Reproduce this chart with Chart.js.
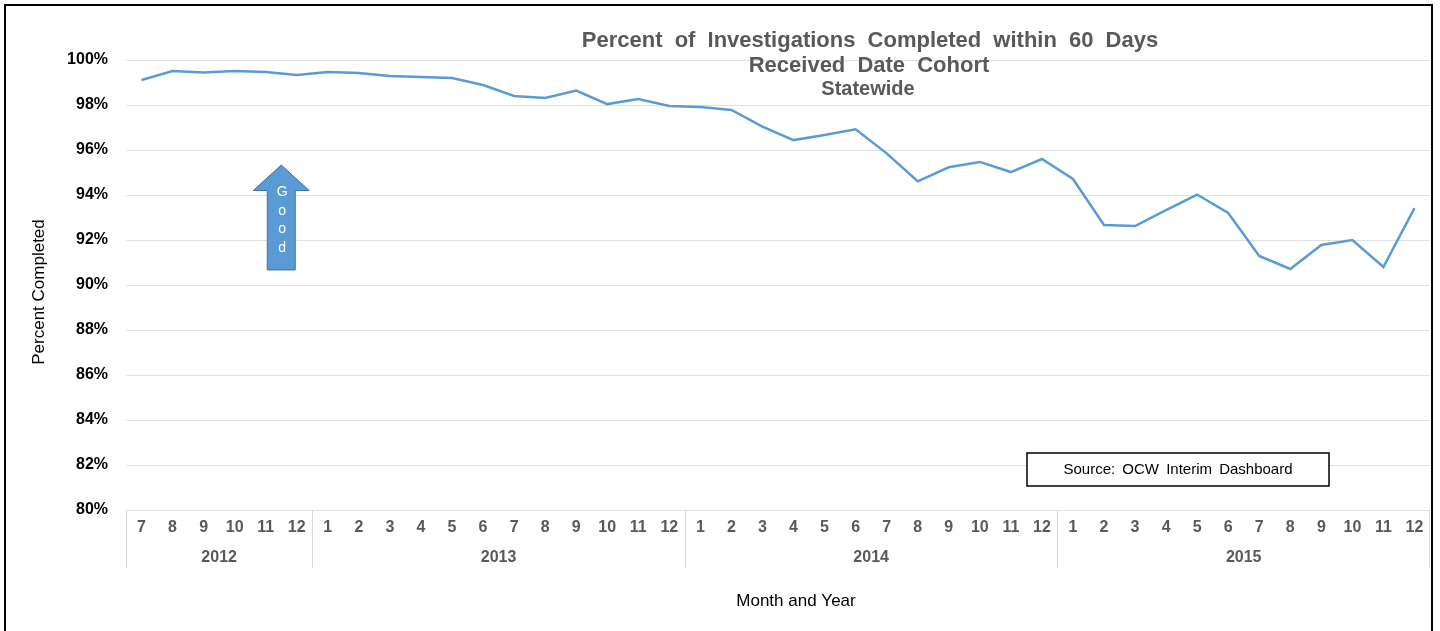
<!DOCTYPE html>
<html lang="en">
<head>
    <meta charset="UTF-8">
    <title>Percent of Investigations Completed within 60 Days</title>
    <style>
        * {
            margin: 0;
            padding: 0;
            box-sizing: border-box;
        }

        body {
            background: #ffffff;
            overflow: hidden;
            font-family: 'Liberation Sans', Arial, sans-serif;
        }

        .chart-box {
            position: relative;
            width: 1440px;
            height: 631px;
        }
    </style>
    <script src="https://cdn.jsdelivr.net/npm/chart.js"></script>
</head>
<body>
    <div class="chart-box">
        <canvas id="completedChart"></canvas>
    </div>

    <script>
        // month / year of each point (received date cohort)
        const months = [7, 8, 9, 10, 11, 12,
            1, 2, 3, 4, 5, 6, 7, 8, 9, 10, 11, 12,
            1, 2, 3, 4, 5, 6, 7, 8, 9, 10, 11, 12,
            1, 2, 3, 4, 5, 6, 7, 8, 9, 10, 11, 12];
        const years = [2012, 2012, 2012, 2012, 2012, 2012,
            2013, 2013, 2013, 2013, 2013, 2013, 2013, 2013, 2013, 2013, 2013, 2013,
            2014, 2014, 2014, 2014, 2014, 2014, 2014, 2014, 2014, 2014, 2014, 2014,
            2015, 2015, 2015, 2015, 2015, 2015, 2015, 2015, 2015, 2015, 2015, 2015];

        // percent completed within 60 days
        const percentCompleted = [99.11, 99.51, 99.44, 99.51, 99.47, 99.33,
            99.47, 99.42, 99.29, 99.24, 99.20, 98.89, 98.40, 98.31, 98.64, 98.04, 98.27, 97.96,
            97.91, 97.78, 97.04, 96.44, 96.67, 96.92, 95.85, 94.61, 95.23, 95.47, 95.02, 95.60,
            94.71, 92.67, 92.62, 93.33, 94.02, 93.20, 91.29, 90.71, 91.78, 92.00, 90.80, 93.42];

        const yTicks = { min: 80, max: 100, step: 2 };

        const titleLines = ["Percent of Investigations Completed within 60 Days", "Received Date Cohort", "Statewide"];
        const sourceText = "Source: OCW Interim Dashboard";

        const FONT = "'Liberation Sans', Arial, sans-serif";

        // draws the year groups, titles, arrow, source box and frame
        const extras = {
            id: 'extras',
            afterDraw(chart) {
                const ctx = chart.ctx;
                const area = chart.chartArea;
                const xs = chart.scales.x;
                const ys = chart.scales.y;
                const half = (xs.getPixelForValue(1) - xs.getPixelForValue(0)) / 2;

                ctx.save();

                // year group separators + labels
                ctx.strokeStyle = '#d9d9d9';
                ctx.lineWidth = 1;
                ctx.fillStyle = '#595959';
                ctx.font = 'bold 16px ' + FONT;
                ctx.textAlign = 'center';
                ctx.textBaseline = 'middle';
                let start = 0;
                for (let i = 1; i <= years.length; i++) {
                    if (i === years.length || years[i] !== years[start]) {
                        const x0 = xs.getPixelForValue(start) - half;
                        const x1 = xs.getPixelForValue(i - 1) + half;
                        ctx.beginPath();
                        ctx.moveTo(Math.round(x0) + 0.5, area.bottom);
                        ctx.lineTo(Math.round(x0) + 0.5, area.bottom + 58);
                        ctx.stroke();
                        if (i === years.length) {
                            ctx.beginPath();
                            ctx.moveTo(Math.round(x1) - 0.5, area.bottom);
                            ctx.lineTo(Math.round(x1) - 0.5, area.bottom + 58);
                            ctx.stroke();
                        }
                        ctx.fillText(String(years[start]), (x0 + x1) / 2, area.bottom + 48);
                        start = i;
                    }
                }

                // axis titles
                ctx.fillStyle = '#000000';
                ctx.font = '17px ' + FONT;
                ctx.fillText('Month and Year', 796, 601);
                ctx.save();
                ctx.translate(39, 292);
                ctx.rotate(-Math.PI / 2);
                ctx.fillText('Percent Completed', 0, 0);
                ctx.restore();

                // chart title
                ctx.fillStyle = '#595959';
                ctx.wordSpacing = '6px';
                ctx.font = 'bold 22px ' + FONT;
                ctx.fillText(titleLines[0], 870, 41);
                ctx.fillText(titleLines[1], 869, 66);
                ctx.font = 'bold 20px ' + FONT;
                ctx.fillText(titleLines[2], 868, 89);
                ctx.wordSpacing = '0px';

                // "Good" arrow
                const ax = (xs.getPixelForValue(4) + xs.getPixelForValue(5)) / 2;
                const tip = ys.getPixelForValue(95.33);
                const neck = ys.getPixelForValue(94.2);
                const foot = ys.getPixelForValue(90.67);
                ctx.beginPath();
                ctx.moveTo(ax, tip);
                ctx.lineTo(ax + 28, neck);
                ctx.lineTo(ax + 14, neck);
                ctx.lineTo(ax + 14, foot);
                ctx.lineTo(ax - 14, foot);
                ctx.lineTo(ax - 14, neck);
                ctx.lineTo(ax - 28, neck);
                ctx.closePath();
                ctx.fillStyle = '#5b9bd5';
                ctx.fill();
                ctx.strokeStyle = '#41719c';
                ctx.lineWidth = 1;
                ctx.stroke();
                ctx.fillStyle = '#ffffff';
                ctx.font = '14px ' + FONT;
                ['G', 'o', 'o', 'd'].forEach((ch, k) => {
                    ctx.fillText(ch, ax + 1, neck + 2 + k * 18.5);
                });

                // source box
                ctx.fillStyle = '#ffffff';
                ctx.fillRect(1027, 453, 302, 33);
                ctx.strokeStyle = '#000000';
                ctx.lineWidth = 1.5;
                ctx.strokeRect(1027, 453, 302, 33);
                ctx.fillStyle = '#000000';
                ctx.font = '15px ' + FONT;
                ctx.wordSpacing = '3px';
                ctx.fillText(sourceText, 1178, 470);
                ctx.wordSpacing = '0px';

                // outer frame
                ctx.strokeStyle = '#000000';
                ctx.lineWidth = 2;
                ctx.strokeRect(5, 5, 1427, 700);

                ctx.restore();
            }
        };

        const ctx = document.getElementById('completedChart').getContext('2d');
        new Chart(ctx, {
            type: 'line',
            data: {
                labels: months.map(String),
                datasets: [{
                    label: 'Percent Completed',
                    data: percentCompleted,
                    borderColor: '#5b9bd5',
                    borderWidth: 2.5,
                    pointRadius: 0,
                    tension: 0,
                    fill: false
                }]
            },
            options: {
                responsive: true,
                maintainAspectRatio: false,
                animation: false,
                layout: { padding: { left: 0, top: 60, right: 10, bottom: 0 } },
                plugins: {
                    legend: { display: false },
                    tooltip: { enabled: false }
                },
                scales: {
                    x: {
                        offset: true,
                        grid: { display: false, drawTicks: false },
                        border: { display: false },
                        ticks: {
                            color: '#595959',
                            font: { family: FONT, size: 16, weight: 'bold' },
                            padding: 8,
                            maxRotation: 0,
                            autoSkip: false
                        },
                        afterFit(scale) { scale.height = 121; }
                    },
                    y: {
                        min: yTicks.min,
                        max: yTicks.max,
                        grid: { color: '#e0e0e0', lineWidth: 1, drawTicks: false },
                        border: { display: false },
                        ticks: {
                            stepSize: yTicks.step,
                            color: '#000000',
                            font: { family: FONT, size: 16, weight: 'bold' },
                            padding: 18,
                            callback: v => v + '%'
                        },
                        afterFit(scale) { scale.width = 126; }
                    }
                }
            },
            plugins: [extras]
        });
    </script>
</body>
</html>
